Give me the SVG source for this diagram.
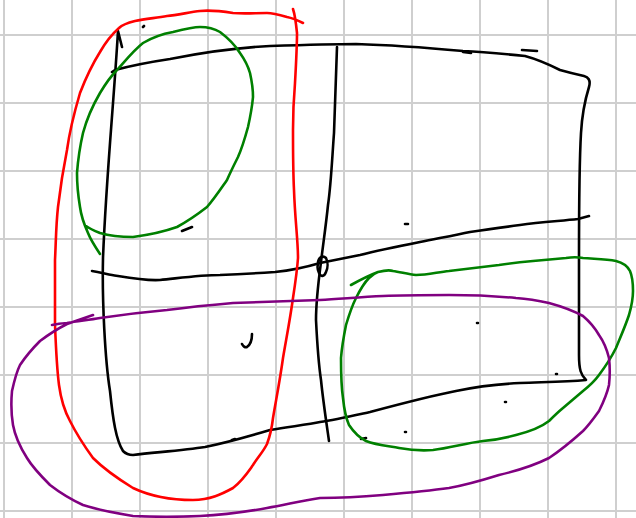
<svg xmlns="http://www.w3.org/2000/svg" width="636" height="518" viewBox="0 0 636 518">
<style>
.g{stroke:#cfcfcf;stroke-width:2;fill:none}
.k{stroke:#000;stroke-width:2.6;fill:none;stroke-linecap:round;stroke-linejoin:round}
.r{stroke:#ff0000;stroke-width:2.6;fill:none;stroke-linecap:round;stroke-linejoin:round}
.gr{stroke:#008000;stroke-width:2.6;fill:none;stroke-linecap:round;stroke-linejoin:round}
.p{stroke:#800080;stroke-width:2.6;fill:none;stroke-linecap:round;stroke-linejoin:round}
</style>
<rect width="636" height="518" fill="#fff"/>
<g id="grid">
<path class="g" d="M4 0V518M72 0V518M140 0V518M208 0V518M276 0V518M344 0V518M412 0V518M480 0V518M548 0V518M616 0V518"/>
<path class="g" d="M0 35H636M0 103H636M0 171H636M0 239H636M0 307H636M0 375H636M0 443H636M0 511H636"/>
</g>
<g id="black">
<path class="k" d="M122 47L118 31C114 100 106 180 103 258C102 300 105 360 110 391C113 420 116 440 123 451C127 455 130 455 133 455C160 452 185 450 205 447C230 442 250 436 270 430C295 426 310 424 320 422C335 420 352 416 370 412C400 404 430 396 456 391C480 386 500 384 520 383C545 382 565 382 586 380C581 375 579 370 579 355L579 260C579 200 580 150 581 133C582 115 585 100 589 87C591 80 588 77 584 76C575 74 567 72 560 70C548 64 540 60 525 56C505 54 485 52 463 51C430 48 390 45 356 44C330 44 300 45 270 46C230 48 200 53 170 59C150 62 130 66 115 70L112 72"/>
<path class="k" d="M92 271C100 272 106 274 112 275C130 278 145 281 160 280C180 278 200 275 220 275C245 274 260 273 275 272C295 270 310 266 320 263C335 260 345 258 360 255C380 250 400 246 420 242C440 238 456 235 470 232C490 229 505 227 520 225C540 222 560 221 578 219L589 216"/>
<path class="k" d="M337 47C336 80 335 110 334 133C332 160 331 185 328 205C326 225 323 245 321 262C318 285 316 300 316 320C317 340 318 360 321 380C323 400 326 420 329 441"/>
<path class="k" d="M318 262C319 257 323 255 326 258C328 262 328 268 326 272C324 277 321 277 319 273C317 269 317 265 319 260"/>
<path class="k" d="M463 52L471 53M522 50L537 51M143 27L144 26M182 231L192 227M405 224L408 224M252 334C252 340 250 345 247 347C245 348 243 346 242 344M477 323L478 323M556 374L557 374M505 402L506 402M405 432L406 432M361 439L366 438M232 440L235 439"/>
</g>
<g id="red">
<path class="r" d="M303 23C297 20 292 18 287 17C280 15 273 13 267 13C255 13 245 14 233 13C220 11 210 10 200 11C190 12 178 15 167 16C155 18 145 19 135 21C127 23 122 25 119 28C110 36 104 45 100 52C90 68 85 80 80 93C75 110 70 128 67 150C63 170 60 190 58 207C56 225 56 240 55 260C55 290 55 310 55 325C56 350 57 370 59 385C61 400 64 410 70 421C77 435 85 447 93 458C105 470 120 480 133 488C150 496 170 500 193 500C210 500 222 494 233 488C243 480 248 472 253 465C258 457 263 452 267 444C270 436 272 427 273 418C276 400 280 380 283 358C286 340 290 320 293 298C295 285 297 272 298 258C298 240 295 220 294 190C293 170 293 150 293 130C293 110 294 95 295 83C296 65 297 45 297 33C296 23 295 15 293 9"/>
</g>
<g id="green">
<path class="gr" d="M100 254C94 245 90 238 88 233C84 224 81 215 80 207C78 195 77 185 77 173C78 160 80 146 83 133C87 118 93 105 100 93C106 83 111 76 117 70C126 60 134 50 143 43C153 37 162 34 173 32C185 29 193 27 200 27C208 27 215 29 220 32C228 38 235 45 240 53C245 60 248 66 250 73C252 82 253 90 253 97C252 108 250 118 248 127C245 138 242 148 238 157C234 165 230 173 227 180C220 190 214 199 207 207C198 214 188 221 177 227C163 232 148 235 133 237C120 237 110 236 100 233C95 231 90 229 86 226"/>
<path class="gr" d="M351 285C360 280 370 275 378 272C386 270 390 270 393 271C400 272 408 274 416 275C428 275 438 272 449 271C465 269 482 267 499 265C512 263 522 262 533 261C545 260 555 259 566 258C572 257 578 257 583 258C595 259 606 259 616 261C624 263 628 267 630 271C633 278 633 285 633 291C633 300 631 308 629 315C625 327 620 338 616 348C611 358 605 367 599 375C594 382 588 387 583 391C576 397 570 402 563 408C557 413 553 417 549 421C540 428 528 432 516 435C505 438 495 440 483 441C466 443 450 448 433 450C420 451 410 450 399 448C388 446 376 445 366 441C358 437 353 431 349 425C345 416 344 408 343 398C341 385 341 370 341 358C342 345 344 335 346 325C349 315 352 306 356 298C360 290 364 283 369 278C372 275 375 273 378 272"/>
</g>
<g id="purple">
<path class="p" d="M52 325C58 324 63 323 67 323C78 321 89 320 100 318C120 315 145 312 167 310C190 307 210 305 233 303C260 302 290 301 320 300C340 299 360 297 383 296C405 295 425 295 449 295C470 295 495 296 516 298C530 299 540 301 549 303C560 306 572 310 583 316C590 322 595 328 599 335C604 342 607 350 609 358C610 367 610 376 609 385C607 394 603 403 599 411C594 418 589 425 583 431C573 440 561 450 549 458C533 466 516 471 499 475C483 480 466 485 449 488C427 491 405 493 383 495C360 497 340 498 320 498C300 501 285 505 267 508C245 512 222 515 200 516C178 517 155 517 133 516C115 513 98 510 83 505C70 499 59 492 50 485C42 477 33 468 27 458C20 447 15 436 13 425C11 413 11 402 12 391C14 382 16 373 20 365C26 356 33 348 40 341C48 335 57 329 67 324L93 315"/>
</g>
</svg>
